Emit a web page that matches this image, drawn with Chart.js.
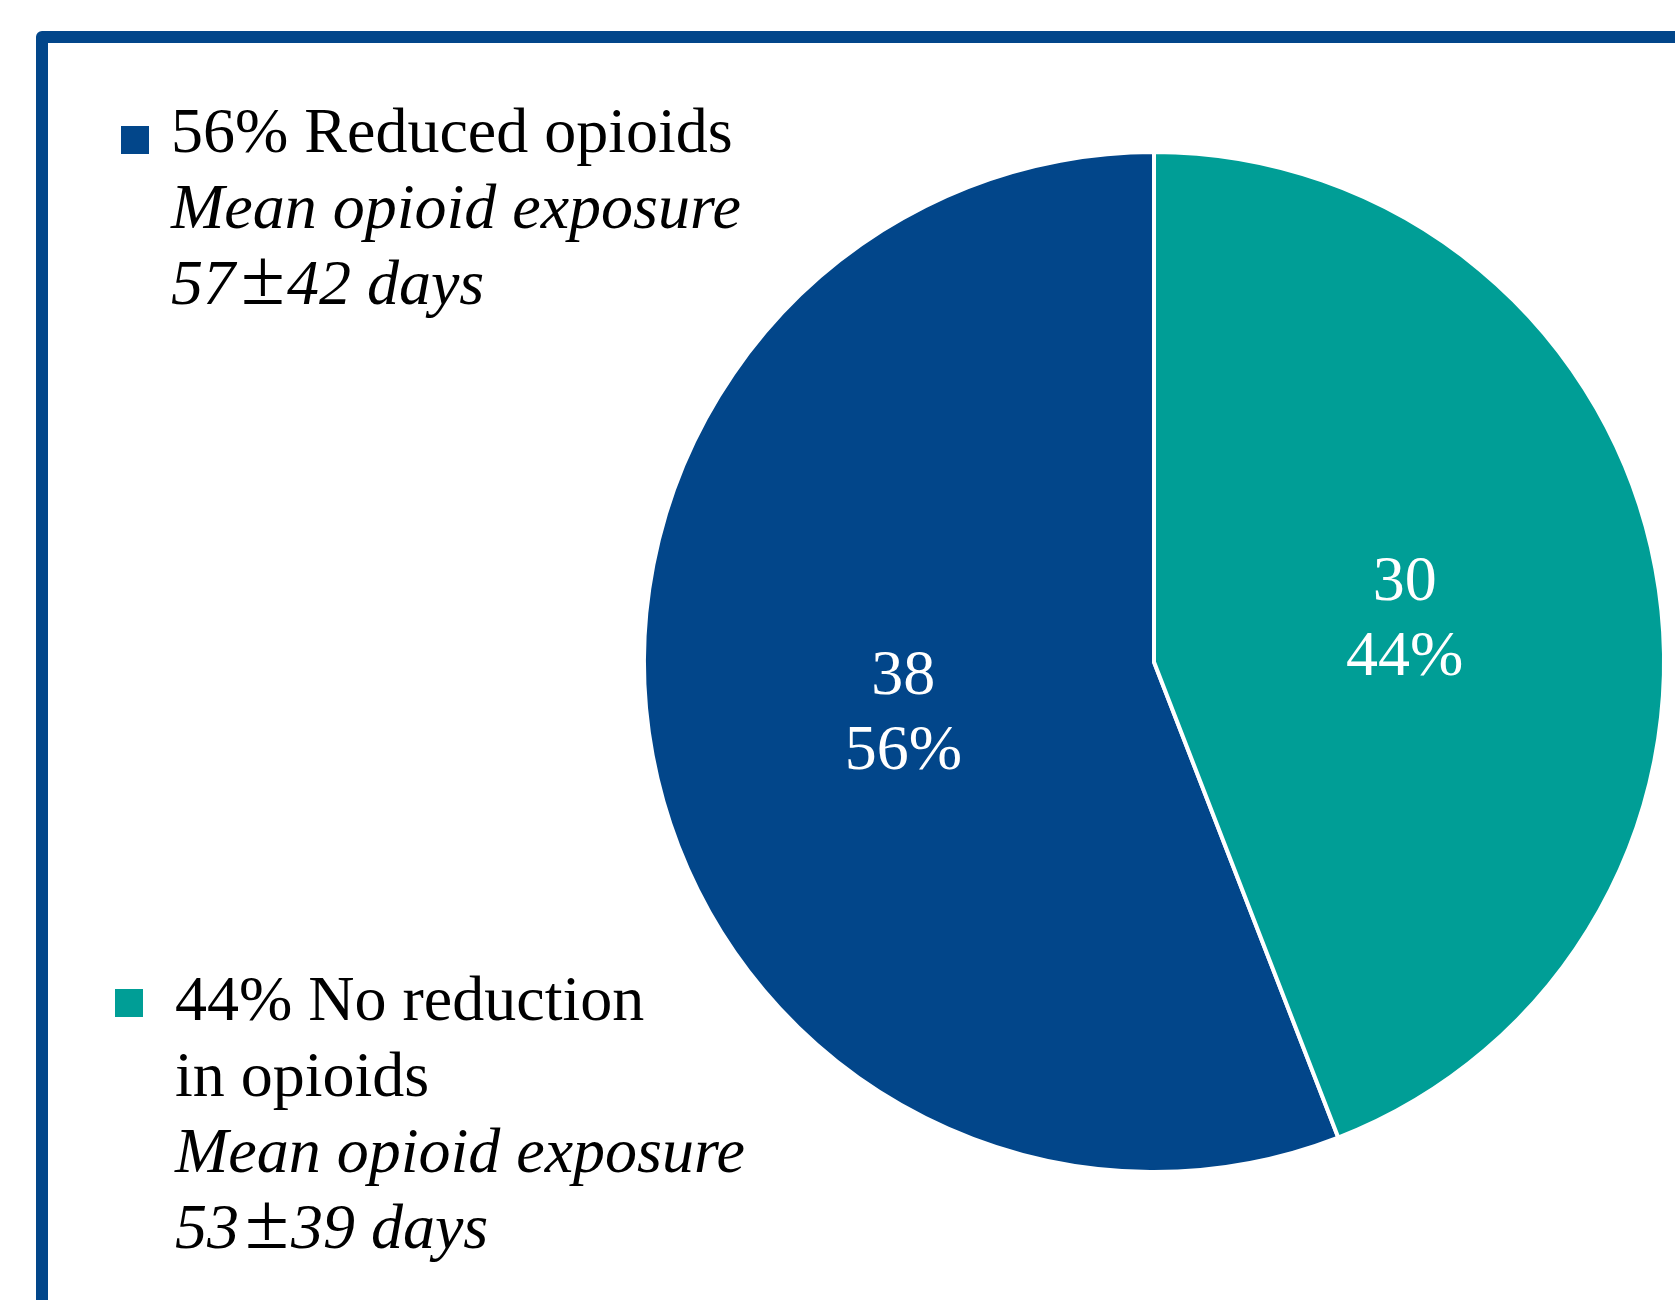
<!DOCTYPE html>
<html>
<head>
<meta charset="utf-8">
<script src="https://cdn.jsdelivr.net/npm/chart.js@4"></script>
<style>
  html, body { margin: 0; padding: 0; background: #fff; overflow: hidden; }
  #wrap { position: relative; width: 1675px; height: 1300px; overflow: hidden; }
  #frame {
    position: absolute; left: 36px; top: 31px; width: 2000px; height: 2000px;
    border: 12px solid #02468a; border-radius: 6px; box-sizing: border-box;
  }
  #chart { position: absolute; left: 0; top: 0; }
  .legend {
    position: absolute; font-family: "Liberation Serif", "Times New Roman", serif;
    font-size: 64px; line-height: 76px; color: #000; white-space: nowrap;
  }
  .legend .sw { position: absolute; width: 28px; height: 28px; }
  .legend i { font-style: italic; }
  .legend .pm { font-style: normal; font-size: 1.25em; line-height: 0; margin-left: 6px; margin-right: 2px; }
</style>
</head>
<body>
<div id="wrap">
  <div id="frame"></div>
  <canvas id="chart" width="1675" height="1300"></canvas>
  <div id="legend"></div>
</div>
<script>
// chart values
var categories = ['Reduced opioids', 'No reduction in opioids'];
var counts = [38, 30];
var meanDays = [57, 53];
var sdDays = [42, 39];
var colors = ['#02468a', '#009e96'];

var total = counts[0] + counts[1];
var pct = counts.map(function (c) { return Math.round(100 * c / total); });

// legend blocks (html text)
var legendBlocks = [
  { left: 115, top: 93, sq: [6, 33], lines: [pct[0] + '% ' + categories[0]] },
  { left: 119, top: 961, sq: [-4, 28], lines: [pct[1] + '% No reduction', 'in opioids'] }
];
var legendEl = document.getElementById('legend');
legendBlocks.forEach(function (b, i) {
  var d = document.createElement('div');
  d.className = 'legend';
  d.style.left = (b.left + 56) + 'px';
  d.style.top = b.top + 'px';
  var html = b.lines.join('<br>');
  html += '<br><i>Mean opioid exposure</i><br><i>' + meanDays[i] +
    '<span class="pm">\u00b1</span>' + sdDays[i] + ' days</i>';
  d.innerHTML = html;
  var sw = document.createElement('div');
  sw.className = 'sw';
  sw.style.background = colors[i];
  sw.style.left = (b.sq[0] - 56) + 'px';
  sw.style.top = b.sq[1] + 'px';
  d.appendChild(sw);
  legendEl.appendChild(d);
});

// draws count + percent inside each slice
var sliceLabels = {
  id: 'sliceLabels',
  afterDatasetsDraw: function (chart) {
    var ctx = chart.ctx;
    var meta = chart.getDatasetMeta(0);
    ctx.save();
    ctx.fillStyle = '#fff';
    ctx.font = '64px "Liberation Serif", "Times New Roman", serif';
    ctx.textAlign = 'center';
    ctx.textBaseline = 'middle';
    meta.data.forEach(function (arc, i) {
      var p = arc.tooltipPosition();
      ctx.fillText(String(counts[i]), p.x, p.y - 32);
      ctx.fillText(pct[i] + '%', p.x, p.y + 43);
    });
    ctx.restore();
  }
};

var ctx = document.getElementById('chart').getContext('2d');
var myChart = new Chart(ctx, {
  type: 'pie',
  data: {
    labels: categories,
    datasets: [{
      data: counts,
      backgroundColor: colors,
      borderColor: '#ffffff',
      borderWidth: 4
    }]
  },
  options: {
    responsive: false,
    animation: false,
    rotation: 360 * counts[1] / total,
    layout: { padding: { left: 642, right: 9, top: 150, bottom: 126 } },
    plugins: {
      legend: { display: false },
      tooltip: { enabled: false }
    }
  },
  plugins: [sliceLabels]
});
</script>
</body>
</html>
